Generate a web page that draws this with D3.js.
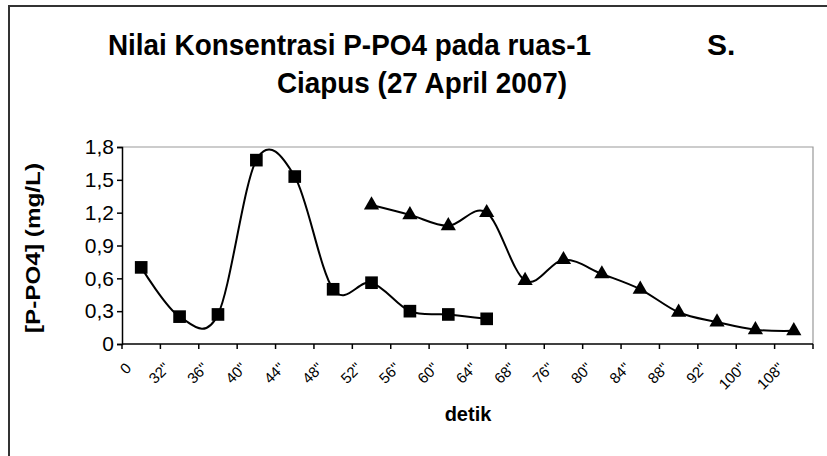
<!DOCTYPE html>
<html>
<head>
  <meta charset="utf-8">
  <title>Nilai Konsentrasi P-PO4</title>
  <script src="https://d3js.org/d3.v7.min.js"></script>
</head>
<style>
  body { margin: 0; background: #fff; font-family: "Liberation Sans", Arial, sans-serif; }
  svg text { fill: #000; }
</style>
<body>
<div id="chart"></div>
<script>
// category labels (detik)
var categories = ["0", "32\"", "36\"", "40\"", "44\"", "48\"", "52\"", "56\"", "60\"",
                  "64\"", "68\"", "76\"", "80\"", "84\"", "88\"", "92\"", "100\"", "108\""];
// series with square markers, starts at first category
var squareValues = [0.70, 0.25, 0.27, 1.68, 1.53, 0.50, 0.56, 0.30, 0.27, 0.23];
var squareStart = 0;
// series with triangle markers, starts at 52"
var triangleValues = [1.27, 1.18, 1.08, 1.20, 0.58, 0.77, 0.64, 0.50, 0.29, 0.20, 0.13, 0.12];
var triangleStart = 6;
var yTicks = [0, 0.3, 0.6, 0.9, 1.2, 1.5, 1.8];

var width = 827, height = 456;
var margin = {left: 122, right: 14, top: 147, bottom: 112};

var svg = d3.select("#chart").append("svg")
  .attr("width", width)
  .attr("height", height);

// outer frame (only top and left visible)
svg.append("path")
  .attr("d", "M9,456 L9,6 L827,6")
  .attr("fill", "none")
  .attr("stroke", "#333")
  .attr("stroke-width", 2);

var x = d3.scaleBand()
  .domain(categories)
  .range([margin.left, width - margin.right]);

var y = d3.scaleLinear()
  .domain([0, 1.8])
  .range([height - margin.bottom, margin.top]);

// plot frame top/right in gray
svg.append("path")
  .attr("d", "M" + x.range()[0] + "," + y(1.8) + " L" + x.range()[1] + "," + y(1.8) + " L" + x.range()[1] + "," + y(0))
  .attr("fill", "none")
  .attr("stroke", "#999")
  .attr("stroke-width", 1.2);

// y axis
var yAxis = svg.append("g")
  .attr("transform", "translate(" + margin.left + ",0)")
  .call(d3.axisLeft(y).tickValues(yTicks).tickSize(5).tickPadding(3)
    .tickFormat(function(d) { return d3.format(".1f")(d).replace(".", ",").replace(/^0,0$/, "0"); }));
yAxis.select(".domain").attr("stroke", "#000").attr("stroke-width", 1.5);
yAxis.selectAll(".tick line").attr("stroke", "#000").attr("stroke-width", 1.5);
yAxis.selectAll(".tick text").style("font-size", "21px").style("font-family", "Liberation Sans, Arial, sans-serif");

// x axis: ticks between categories
var xAxisG = svg.append("g");
xAxisG.append("line")
  .attr("x1", x.range()[0]).attr("x2", x.range()[1])
  .attr("y1", y(0)).attr("y2", y(0))
  .attr("stroke", "#000").attr("stroke-width", 1.5);
var tickPos = categories.map(function(c) { return x(c); }).concat([x.range()[1]]);
xAxisG.selectAll(".xt").data(tickPos).enter().append("line")
  .attr("x1", function(d) { return d; }).attr("x2", function(d) { return d; })
  .attr("y1", y(0)).attr("y2", y(0) + 5)
  .attr("stroke", "#000").attr("stroke-width", 1.5);
xAxisG.selectAll(".xl").data(categories).enter().append("text")
  .attr("transform", function(d) {
    return "translate(" + (x(d) + x.bandwidth() / 2 - 9) + "," + (y(0) + 25) + ") rotate(-45)";
  })
  .attr("text-anchor", "end")
  .style("font-size", "15px")
  .text(function(d) { return d; });

// lines
var line = d3.line()
  .x(function(d) { return x(categories[d.i]) + x.bandwidth() / 2; })
  .y(function(d) { return y(d.v); })
  .curve(d3.curveCardinal.tension(0));

var sq = squareValues.map(function(v, k) { return {i: squareStart + k, v: v}; });
var tr = triangleValues.map(function(v, k) { return {i: triangleStart + k, v: v}; });

[sq, tr].forEach(function(s) {
  svg.append("path")
    .datum(s)
    .attr("d", line)
    .attr("fill", "none")
    .attr("stroke", "#000")
    .attr("stroke-width", 2);
});

// markers
svg.selectAll(".sq").data(sq).enter().append("path")
  .attr("d", d3.symbol().type(d3.symbolSquare).size(160))
  .attr("transform", function(d) { return "translate(" + (x(categories[d.i]) + x.bandwidth() / 2) + "," + y(d.v) + ")"; })
  .attr("fill", "#000");

svg.selectAll(".tr").data(tr).enter().append("path")
  .attr("d", d3.symbol().type(d3.symbolTriangle).size(100))
  .attr("transform", function(d) { return "translate(" + (x(categories[d.i]) + x.bandwidth() / 2) + "," + y(d.v) + ")"; })
  .attr("fill", "#000");

// titles
svg.append("text").attr("x", 108).attr("y", 55)
  .attr("textLength", 483).attr("lengthAdjust", "spacingAndGlyphs")
  .style("font-size", "30px").style("font-weight", "bold")
  .text("Nilai Konsentrasi P-PO4 pada ruas-1");
svg.append("text").attr("x", 707).attr("y", 55)
  .style("font-size", "30px").style("font-weight", "bold")
  .text("S.");
svg.append("text").attr("x", 277).attr("y", 93)
  .attr("textLength", 290).attr("lengthAdjust", "spacingAndGlyphs")
  .style("font-size", "30px").style("font-weight", "bold")
  .text("Ciapus (27 April 2007)");

svg.append("text")
  .attr("transform", "translate(40,248) rotate(-90)")
  .attr("text-anchor", "middle")
  .attr("textLength", 170).attr("lengthAdjust", "spacingAndGlyphs")
  .style("font-size", "21px").style("font-weight", "bold")
  .text("[P-PO4] (mg/L)");

svg.append("text").attr("x", 468).attr("y", 421).attr("text-anchor", "middle")
  .style("font-size", "20px").style("font-weight", "bold")
  .text("detik");
</script>
</body>
</html>
